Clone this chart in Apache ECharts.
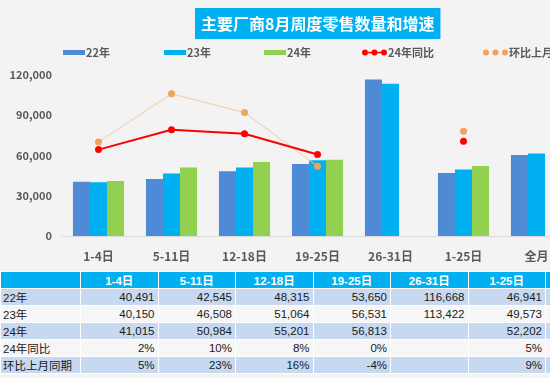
<!DOCTYPE html>
<html><head><meta charset="utf-8">
<script src="https://cdn.jsdelivr.net/npm/echarts@6/dist/echarts.min.js"></script>
<style>
html,body{margin:0;padding:0;width:550px;height:378px;overflow:hidden;background:#f3f3f3;}
#chart{position:absolute;left:0;top:0;width:620px;height:270px;}
#tbl{position:absolute;left:0;top:271px;width:623px;border-collapse:collapse;table-layout:fixed;
 font-family:Arial,"Liberation Sans","Noto Sans CJK SC",sans-serif;font-size:11.5px;color:#1a1a1a;}
#tbl td{border:1px solid #fff;padding:0 3px;text-align:right;white-space:nowrap;overflow:hidden;}
#tbl tr{height:15.5px;}
#tbl tr.hd{height:17px;background:#00b0f0;color:#fff;font-weight:bold;}
#tbl tr.hd td{text-align:center;}
#tbl td.lb{text-align:left;padding-left:2px;}
#tbl tr.b{background:#c6d9f1;}
#tbl tr.w{background:#f6f6f6;}
</style>
</head><body>
<div id="chart"></div>
<table id="tbl"></table>
<script>
const categories = ['1-4日','5-11日','12-18日','19-25日','26-31日','1-25日','全月'];
const sales22 = [40491, 42545, 48315, 53650, 116668, 46941, 60400];
const sales23 = [40150, 46508, 51064, 56531, 113422, 49573, 61500];
const sales24 = [41015, 50984, 55201, 56813, null, 52202, null];
const yoy24 = [2.2, 9.6, 8.1, 0.4, null, 5.3, null];      // %
const momPrev = [5, 23, 16, -4, null, 9, null];           // %
const seriesNames = ['22年', '23年', '24年', '24年同比', '环比上月同期'];
const tableRowLabels = ['22年', '23年', '24年', '24年同比', '环比上月同期'];

const colors = ['#4f8ad6', '#00b0f0', '#92d050', '#ff0000', '#f4a259'];
const font = '"Noto Sans CJK SC","Microsoft YaHei",sans-serif';

const redIcon = 'path://M0,3a3,3 0 1,0 6,0a3,3 0 1,0 -6,0zM9.5,3a3,3 0 1,0 6,0a3,3 0 1,0 -6,0zM19,3a3,3 0 1,0 6,0a3,3 0 1,0 -6,0zM6,2.3L9.5,2.3L9.5,3.7L6,3.7zM15.5,2.3L19,2.3L19,3.7L15.5,3.7z';
const dotIcon = 'path://M0,3a3,3 0 1,0 6,0a3,3 0 1,0 -6,0zM9.5,3a3,3 0 1,0 6,0a3,3 0 1,0 -6,0zM19,3a3,3 0 1,0 6,0a3,3 0 1,0 -6,0z';

const legendText = {color:'#595959', fontSize:11, fontWeight:'bold', fontFamily:font, padding:[0,0,0,-4]};
const legendPos = [58, 159, 259, 357, 478];
const legends = seriesNames.map((n, i) => ({
  data: [i < 3 ? {name:n, icon:'rect'} : {name:n, icon: i === 3 ? redIcon : dotIcon, itemStyle:{color:colors[i], borderWidth:0}}],
  left: legendPos[i], top: 42,
  itemWidth: i < 3 ? 22 : 25, itemHeight: i < 3 ? 5 : 6,
  textStyle: legendText, selectedMode: false
}));

const chart = echarts.init(document.getElementById('chart'), null, {renderer:'canvas'});
chart.setOption({
  backgroundColor: '#f3f3f3',
  animation: false,
  title: {
    text: '主要厂商8月周度零售数量和增速', left: 195, top: 8,
    backgroundColor: '#00b0f0', padding: [5, 6],
    textStyle: {color:'#fff', fontSize:16, fontWeight:'bold', fontFamily:font, lineHeight:21}
  },
  legend: legends,
  grid: {left: 62, top: 75, width: 511, height: 161},
  xAxis: {
    type: 'category', data: categories,
    axisLine: {lineStyle: {color:'#d9d9d9', width:1}},
    axisTick: {show:false},
    axisLabel: {color:'#595959', fontSize:12, fontWeight:'bold', fontFamily:font, margin:14, interval:0}
  },
  yAxis: [{
    type: 'value', min: 0, max: 120000, interval: 30000,
    axisLine: {show:false}, axisTick: {show:false}, splitLine: {show:false},
    axisLabel: {color:'#595959', fontSize:11, fontWeight:'bold', fontFamily:font, margin:10,
      formatter: v => v.toLocaleString('en-US')}
  }, {
    type: 'value', min: -30, max: 30, show: false, splitLine: {show:false}
  }],
  series: [
    {name:seriesNames[0], type:'bar', data:sales22, itemStyle:{color:colors[0]}, barGap:'0%', barCategoryGap:'30%'},
    {name:seriesNames[1], type:'bar', data:sales23, itemStyle:{color:colors[1]}, barGap:'0%', barCategoryGap:'30%'},
    {name:seriesNames[2], type:'bar', data:sales24, itemStyle:{color:colors[2]}, barGap:'0%', barCategoryGap:'30%'},
    {name:seriesNames[3], type:'line', yAxisIndex:1, data:yoy24, symbol:'circle', symbolSize:7,
      itemStyle:{color:colors[3], borderWidth:0}, lineStyle:{color:'#ff0000', width:2}, z:5},
    {name:seriesNames[4], type:'line', yAxisIndex:1, data:momPrev, symbol:'circle', symbolSize:7,
      itemStyle:{color:colors[4], borderWidth:0}, lineStyle:{color:'#f7c8a0', width:1}, z:4}
  ]
});

// table built from the same arrays
const fmtN = v => v == null ? '' : v.toLocaleString('en-US');
const fmtP = v => v == null ? '' : Math.round(v) + '%';
const rows = [sales22.map(fmtN), sales23.map(fmtN), sales24.map(fmtN), yoy24.map(fmtP), momPrev.map(fmtP)];
const cls = ['b','w','b','w','b'];
let html = '<colgroup><col style="width:80px">' + categories.map(() => '<col style="width:77.5px">').join('') + '</colgroup>';
html += '<tr class="hd"><td></td>' + categories.map(c => '<td>' + c + '</td>').join('') + '</tr>';
rows.forEach((r, i) => {
  html += '<tr class="' + cls[i] + '"><td class="lb">' + tableRowLabels[i] + '</td>' + r.map(v => '<td>' + v + '</td>').join('') + '</tr>';
});
document.getElementById('tbl').innerHTML = html;
</script>
</body></html>
